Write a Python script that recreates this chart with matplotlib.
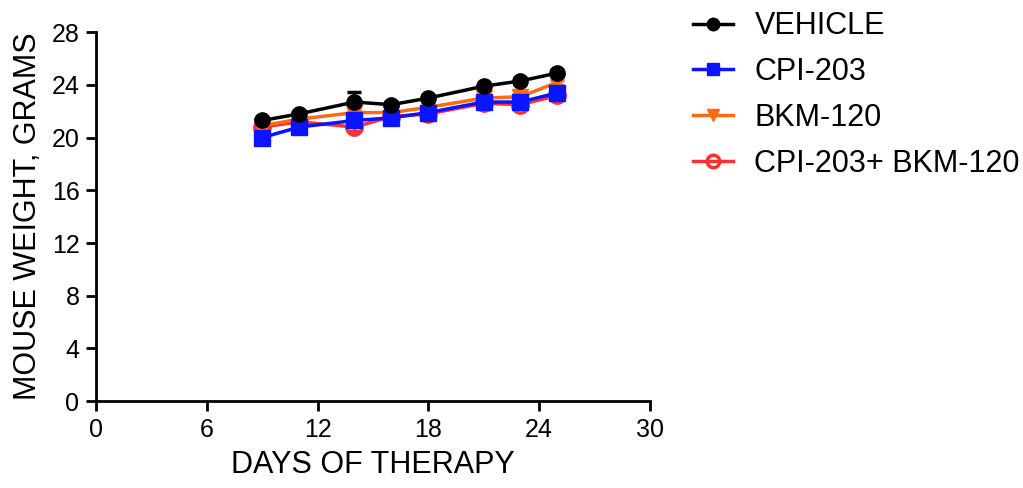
import matplotlib
matplotlib.use("Agg")
import matplotlib.pyplot as plt
from matplotlib.lines import Line2D

plt.rcParams['font.family'] = ['Liberation Sans', 'DejaVu Sans']

days = [9, 11, 14, 16, 18, 21, 23, 25]
vehicle = [21.3, 21.8, 22.7, 22.5, 23.0, 23.9, 24.3, 24.9]
vehicle_err = [0.2, 0.2, 0.8, 0.2, 0.2, 0.2, 0.2, 0.2]
cpi203 = [20.0, 20.8, 21.3, 21.5, 21.9, 22.7, 22.7, 23.4]
cpi203_err = [0.2, 0.2, 0.3, 0.2, 0.2, 0.2, 0.2, 0.2]
bkm120 = [20.9, 21.4, 21.9, 21.9, 22.3, 23.0, 23.1, 24.2]
bkm120_err = [0.2, 0.2, 0.3, 0.2, 0.2, 0.2, 0.2, 0.2]
combo = [20.8, 21.2, 20.8, 21.6, 21.8, 22.6, 22.5, 23.2]
combo_err = [0.2, 0.2, 0.3, 0.2, 0.2, 0.2, 0.2, 0.2]

labels = ["VEHICLE", "CPI-203", "BKM-120", "CPI-203+ BKM-120"]
x_ticks = [0, 6, 12, 18, 24, 30]
y_ticks = [0, 4, 8, 12, 16, 20, 24, 28]

fig = plt.figure(figsize=(10.23, 4.88), dpi=100)
ax = fig.add_axes([0.094, 0.178, 0.541, 0.756])

series = [
    (combo, combo_err, labels[3], '#ff3030', 'o', 'none'),
    (bkm120, bkm120_err, labels[2], '#ff6a13', 'v', None),
    (cpi203, cpi203_err, labels[1], '#0a14ff', 's', None),
    (vehicle, vehicle_err, labels[0], 'black', 'o', None),
]
handles = {}
for vals, err, lab, col, mk, mfc in series:
    kw = dict(color=col, marker=mk, markersize=11, linewidth=2.5,
              elinewidth=2, capsize=5, capthick=2.5, label=lab)
    hkw = dict(color=col, marker=mk, markersize=9, linewidth=2.5)
    if mfc == 'none':
        kw.update(markerfacecolor='none', markeredgewidth=2.5)
        hkw.update(markerfacecolor='none', markeredgewidth=2.5)
    ax.errorbar(days, vals, yerr=err, **kw)
    handles[lab] = Line2D([], [], **hkw)

ax.set_xlim(0, 30)
ax.set_ylim(0, 28)
ax.set_xticks(x_ticks)
ax.set_yticks(y_ticks)
for s in ['top', 'right']:
    ax.spines[s].set_visible(False)
for s in ['left', 'bottom']:
    ax.spines[s].set_linewidth(2)
ax.tick_params(axis='both', width=2, length=7, labelsize=18, direction='out', pad=5)
ax.set_xlabel("DAYS OF THERAPY", fontsize=22, labelpad=6)
ax.set_ylabel("MOUSE WEIGHT, GRAMS", fontsize=22, labelpad=6)

leg = ax.legend([handles[l] for l in labels], labels, loc='upper left',
                bbox_to_anchor=(1.057, 1.09), frameon=False, fontsize=22,
                handlelength=1.3, handletextpad=0.7, labelspacing=0.52,
                borderaxespad=0)

fig.savefig("out.png", dpi=100)
